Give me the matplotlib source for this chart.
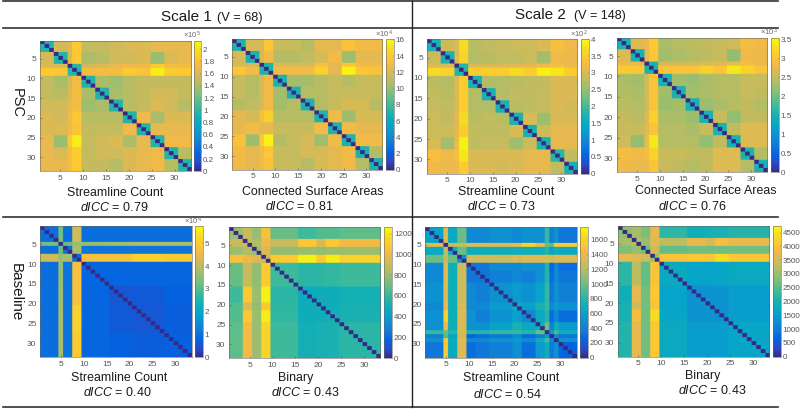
import matplotlib
matplotlib.use("Agg")
import matplotlib.pyplot as plt
import numpy as np
from matplotlib.colors import LinearSegmentedColormap
from matplotlib.lines import Line2D

plt.rcParams["font.family"] = ["Liberation Sans", "DejaVu Sans"]
plt.rcParams["mathtext.fontset"] = "custom"
plt.rcParams["mathtext.it"] = "Liberation Sans:italic"
plt.rcParams["mathtext.rm"] = "Liberation Sans"

W, H = 800, 411

# parula, every few levels
parula = LinearSegmentedColormap.from_list("parula", [
    (0.2081, 0.1663, 0.5292), (0.1707, 0.2919, 0.7792), (0.0117, 0.3875, 0.8820),
    (0.0629, 0.4737, 0.8554), (0.0641, 0.5570, 0.8240), (0.0231, 0.6418, 0.7913),
    (0.0590, 0.6838, 0.7254), (0.1801, 0.7177, 0.6424), (0.3482, 0.7424, 0.5473),
    (0.5300, 0.7491, 0.4661), (0.6834, 0.7435, 0.4044), (0.8185, 0.7327, 0.3498),
    (0.9450, 0.7261, 0.2886), (0.9955, 0.7861, 0.1967), (0.9626, 0.8705, 0.1309),
    (0.9763, 0.9831, 0.0538),
])

# node groups along the axes, upper triangle of group values for each panel
psc_groups = [3, 3, 1, 2, 3, 3, 3, 3, 3, 3, 3, 3]

psc_scale1_count = [
    [0.95, 1.58, 1.62, 1.85, 1.52, 1.52, 1.57, 1.62, 1.62, 1.67, 1.67, 1.67],
    [0.95, 1.62, 1.85, 1.42, 1.47, 1.57, 1.57, 1.62, 1.35, 1.62, 1.67],
    [1.00, 1.00, 1.57, 1.62, 1.67, 1.72, 1.72, 1.85, 1.75, 1.75],
    [0.95, 1.75, 1.75, 1.75, 1.85, 1.80, 2.08, 1.88, 1.85],
    [0.95, 1.42, 1.37, 1.47, 1.52, 1.52, 1.52, 1.52],
    [0.95, 1.42, 1.47, 1.52, 1.57, 1.57, 1.52],
    [0.95, 1.47, 1.52, 1.62, 1.57, 1.47],
    [0.95, 1.72, 1.42, 1.62, 1.62],
    [0.95, 1.67, 1.67, 1.67],
    [0.95, 1.72, 1.72],
    [0.95, 1.47],
    [0.95],
]
psc_scale1_area = [
    [7.0, 12.0, 12.0, 13.8, 11.5, 11.5, 11.0, 12.5, 12.5, 13.5, 13.0, 13.0],
    [7.0, 12.0, 13.0, 11.0, 11.0, 11.3, 12.0, 13.0, 10.3, 12.5, 12.5],
    [7.0, 7.0, 12.0, 12.0, 12.0, 13.3, 12.5, 13.8, 13.0, 13.0],
    [7.0, 13.0, 13.0, 13.0, 14.3, 12.5, 15.8, 13.8, 13.5],
    [7.0, 10.5, 10.5, 11.0, 11.5, 11.0, 11.5, 11.5],
    [7.0, 11.0, 11.0, 11.5, 11.5, 11.5, 11.5],
    [7.0, 11.0, 11.5, 12.0, 12.0, 11.0],
    [7.0, 13.0, 10.3, 12.0, 12.0],
    [7.0, 13.0, 12.5, 12.5],
    [7.0, 13.0, 13.0],
    [7.0, 11.0],
    [7.0],
]
psc_scale2_count = [
    [1.7, 2.9, 3.0, 3.7, 2.75, 2.8, 2.85, 2.9, 2.9, 3.0, 3.3, 3.2],
    [1.7, 3.0, 3.6, 2.7, 2.75, 2.8, 2.8, 2.9, 2.6, 3.2, 3.15],
    [1.8, 1.8, 3.0, 3.0, 3.0, 3.1, 3.1, 3.2, 3.3, 3.2],
    [1.8, 3.5, 3.5, 3.5, 3.7, 3.5, 3.9, 3.8, 3.5],
    [1.7, 2.7, 2.7, 2.75, 2.8, 2.8, 3.0, 3.0],
    [1.7, 2.7, 2.8, 2.8, 2.85, 3.0, 3.0],
    [1.7, 2.75, 2.8, 2.85, 3.0, 2.95],
    [1.7, 3.0, 2.55, 3.0, 3.0],
    [1.7, 2.9, 3.1, 3.1],
    [1.7, 3.1, 3.1],
    [1.8, 2.8],
    [1.7],
]
psc_scale2_area = [
    [1.5, 2.7, 2.8, 3.1, 2.35, 2.4, 2.45, 2.5, 2.55, 2.6, 2.9, 2.85],
    [1.5, 2.8, 3.05, 2.3, 2.35, 2.4, 2.45, 2.55, 2.2, 2.85, 2.8],
    [1.55, 1.55, 2.6, 2.6, 2.6, 2.7, 2.7, 2.8, 2.9, 2.8],
    [1.55, 3.0, 3.0, 3.0, 3.15, 3.0, 3.4, 3.2, 3.0],
    [1.5, 2.3, 2.25, 2.35, 2.4, 2.4, 2.55, 2.55],
    [1.5, 2.3, 2.35, 2.4, 2.4, 2.55, 2.5],
    [1.5, 2.25, 2.35, 2.4, 2.5, 2.4],
    [1.5, 2.55, 2.2, 2.5, 2.5],
    [1.5, 2.5, 2.7, 2.7],
    [1.5, 2.7, 2.7],
    [1.55, 2.4],
    [1.5],
]

base1_count_groups = [4, 1, 2, 2, 6, 5, 7, 6]
base1_count = [
    [1.0, 3.3, 1.0, 4.2, 1.0, 1.0, 1.0, 1.0],
    [2.8, 3.2, 3.6, 3.6, 3.7, 3.8, 3.8],
    [1.0, 3.8, 1.1, 1.1, 1.1, 1.1],
    [0.9, 4.8, 4.8, 5.1, 5.0],
    [0.85, 0.85, 0.85, 0.85],
    [0.6, 0.65, 0.75],
    [0.6, 0.7],
    [0.75],
]

binary_groups = [3, 2, 2, 2, 6, 4, 2, 3, 9]
base1_binary = [
    [800, 900, 800, 1050, 700, 620, 660, 660, 680],
    [900, 850, 1000, 900, 1080, 950, 1080, 1020],
    [800, 950, 780, 800, 780, 800, 800],
    [900, 1100, 1230, 1100, 1220, 1130],
    [620, 580, 590, 600, 620],
    [480, 500, 500, 520],
    [500, 500, 530],
    [520, 540],
    [580],
]
base2_binary = [
    [2900, 3100, 2800, 3700, 2200, 1900, 2000, 2000, 2100],
    [3200, 3000, 3600, 3300, 3700, 3500, 3900, 3700],
    [2700, 3500, 2600, 2700, 2700, 2700, 2700],
    [3000, 4000, 4100, 4000, 4400, 4100],
    [1750, 1600, 1600, 1650, 1750],
    [1300, 1350, 1350, 1500],
    [1350, 1350, 1500],
    [1300, 1500],
    [1650],
]

base2_count_groups = [4, 1, 2, 2, 2, 3, 5, 1, 1, 3, 2, 1, 1, 1, 4]
base2_count = [
    [600, 1350, 650, 1000, 450, 450, 500, 450, 450, 500, 500, 850, 400, 500, 350],
    [1200, 1250, 1250, 1350, 1350, 1350, 1400, 1400, 1600, 1400, 1000, 950, 1550, 1550],
    [700, 1000, 700, 700, 700, 700, 700, 700, 700, 800, 600, 700, 650],
    [500, 1300, 1300, 1300, 1350, 1300, 1350, 1350, 1350, 1300, 1350, 1350],
    [350, 350, 450, 450, 450, 500, 500, 800, 250, 450, 300],
    [350, 400, 450, 450, 400, 500, 800, 300, 450, 350],
    [500, 550, 550, 500, 600, 850, 350, 500, 400],
    [550, 700, 600, 750, 850, 450, 550, 500],
    [650, 550, 750, 850, 450, 550, 500],
    [450, 650, 800, 300, 450, 300],
    [700, 1000, 400, 700, 550],
    [800, 550, 900, 700],
    [400, 450, 350],
    [550, 500],
    [250],
]

node_ticks = [5, 10, 15, 20, 25, 30]


def build_matrix(upper, groups):
    n = len(groups)
    table = np.zeros((n, n))
    for i, row in enumerate(upper):
        table[i, i:] = row
        table[i:, i] = row
    mat = np.repeat(np.repeat(table, groups, axis=0), groups, axis=1)
    np.fill_diagonal(mat, 0)
    return mat


def px_rect(x0, x1, y0, y1):
    return [x0 / W, 1 - y1 / H, (x1 - x0) / W, (y1 - y0) / H]


def put_text(fig, x, y, s, **kw):
    kw.setdefault("ha", "center")
    kw.setdefault("va", "center")
    kw.setdefault("color", "#1a1a1a")
    fig.text(x / W, 1 - y / H, s, **kw)


panels = [
    # matrix, groups, vmax, cbar ticks, exponent, axes px, cbar px, label, label pos, dICC, dICC pos
    (psc_scale1_count, psc_groups, 2.14, np.arange(0, 2.01, 0.2), "5", (39.5, 190.7, 40.7, 171.3), (194, 201.3),
     "Streamline Count", (115, 193), "0.79", (114, 207)),
    (psc_scale1_area, psc_groups, 16.1, np.arange(0, 17, 2), "4", (232.3, 382.3, 39, 170), (386, 393.7),
     "Connected Surface Areas", (313, 192), "0.81", (299, 206)),
    (psc_scale2_count, psc_groups, 4.0, np.arange(0, 4.01, 0.5), "2", (426.7, 577.3, 39.3, 173.7), (581.3, 589),
     "Streamline Count", (506, 192), "0.73", (501, 206)),
    (psc_scale2_area, psc_groups, 3.55, np.arange(0, 3.51, 0.5), "3", (616.7, 767, 37.7, 172.3), (771, 778.7),
     "Connected Surface Areas", (706, 191), "0.76", (692, 206)),
    (base1_count, base1_count_groups, 5.75, np.arange(0, 6), "4", (40, 191.7, 226.3, 357.3), (195.3, 202.7),
     "Streamline Count", (119, 378), "0.40", (117, 392)),
    (base1_binary, binary_groups, 1260, np.arange(0, 1201, 200), None, (229, 380.3, 227.3, 358.3), (384.3, 392.3),
     "Binary", (296, 378), "0.43", (305, 392)),
    (base2_count, base2_count_groups, 1780, np.arange(0, 1601, 200), None, (425, 576.7, 226.7, 357.7), (580.3, 588.3),
     "Streamline Count", (511, 378), "0.54", (507, 394)),
    (base2_binary, binary_groups, 4750, np.arange(0, 4501, 500), None, (617.7, 769, 225.7, 356.7), (773.3, 781),
     "Binary", (703, 376), "0.43", (712, 390)),
]

fig = plt.figure(figsize=(W / 100, H / 100), dpi=100)

for upper, groups, vmax, cticks, expo, box, cbox, label, lpos, dicc, dpos in panels:
    ax = fig.add_axes(px_rect(box[0], box[1], box[2], box[3]))
    # the source figure is a soft jpeg, so each cell is split in 3 and smoothed a little
    mat = build_matrix(upper, groups)
    fine = np.repeat(np.repeat(mat, 3, axis=0), 3, axis=1)
    im = ax.imshow(fine, cmap=parula, vmin=0, vmax=vmax, aspect="auto",
                   extent=(0.5, 33.5, 33.5, 0.5), interpolation="hanning")
    ax.set_xticks(node_ticks)
    ax.set_yticks(node_ticks)
    ax.tick_params(direction="in", length=1.5, width=0.4, labelsize=6, labelcolor="#555555",
                   color="#555555", pad=2.5)
    for sp in ax.spines.values():
        sp.set_linewidth(0.4)
        sp.set_color("#666666")

    cax = fig.add_axes(px_rect(cbox[0], cbox[1], box[2], box[3]))
    cb = fig.colorbar(im, cax=cax)
    cb.set_ticks(cticks)
    cb.set_ticklabels([f"{t:g}" for t in cticks])
    cb.ax.tick_params(direction="in", length=1, width=0.3, labelsize=5.8, labelcolor="#555555",
                      color="#555555", pad=1.2)
    cb.outline.set_linewidth(0.4)
    cb.outline.set_edgecolor("#666666")
    if expo:
        put_text(fig, cbox[0] - 2, box[2] - 5, rf"$\times$10$^{expo}$", fontsize=5.5, color="#666666")

    put_text(fig, lpos[0], lpos[1], label, fontsize=8.9)
    put_text(fig, dpos[0], dpos[1], rf"$\mathit{{dICC}}$ = {dicc}", fontsize=9)

put_text(fig, 186, 17, "Scale 1", fontsize=11)
put_text(fig, 240, 18, "(V = 68)", fontsize=9.2)
put_text(fig, 540, 15, "Scale 2", fontsize=11)
put_text(fig, 600, 16, "(V = 148)", fontsize=9)
put_text(fig, 17, 103, "PSC", fontsize=10.5, rotation=-90)
put_text(fig, 16, 292, "Baseline", fontsize=11, rotation=-90)

# frame lines of the table
for y0 in [1.5, 28.5, 217, 407]:
    fig.add_artist(Line2D([3 / W, 778 / W], [1 - y0 / H, 1 - y0 / H], color="#333333", lw=1.2))
fig.add_artist(Line2D([412 / W, 412 / W], [1 - 1 / H, 1 - 407 / H], color="#222222", lw=1.0))

fig.savefig("out.png", dpi=100)
